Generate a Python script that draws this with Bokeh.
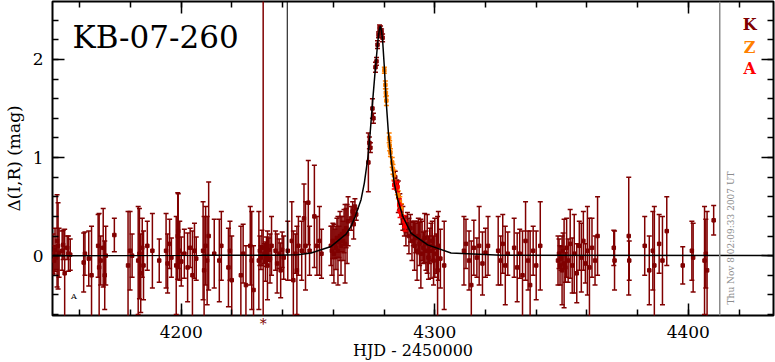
import numpy as np
from bokeh.plotting import figure
from bokeh.models import (Label, SingleIntervalTicker, LinearAxis, Range1d, Span,
                          CustomJSTickFormatter, FixedTicker)
from bokeh.embed import file_html
from bokeh.resources import INLINE

# ---------------- data ----------------
k_t = [4149.4, 4149.8, 4150.2, 4150.6, 4151.0, 4151.4, 4151.8,
       4153.0, 4153.4, 4154.0, 4155.0, 4155.5, 4156.2,
       4161.5, 4162.0, 4163.5, 4164.6,
       4167.2, 4167.6, 4168.2, 4169.2, 4169.8, 4170.2,
       4173.6,
       4179.0, 4179.8, 4180.6,
       4183.0, 4183.5, 4184.0, 4184.6, 4185.1,
       4186.6, 4188.6, 4191.3,
       4194.0, 4194.6, 4195.4, 4196.1,
       4198.0, 4198.6, 4198.8, 4199.4, 4200.0,
       4201.2, 4202.5, 4203.5, 4204.4, 4205.2, 4205.9,
       4208.6, 4209.0, 4209.6, 4210.2, 4210.8,
       4213.0, 4215.0, 4215.8, 4218.6, 4219.2, 4219.9,
       4223.5, 4224.4, 4225.5, 4227.2, 4227.8, 4228.5,
       4230.6, 4231.0, 4231.4, 4231.8, 4232.3, 4232.8, 4233.2, 4233.6, 4234.0, 4234.5, 4235.0, 4235.6,
       4237.2, 4237.8, 4238.6, 4239.2, 4239.8, 4240.4,
       4242.0, 4243.6, 4244.2, 4245.0, 4245.6, 4246.2,
       4247.5, 4248.4, 4249.0, 4250.1, 4250.6,
       4252.5, 4253.5, 4254.5, 4255.3,
       4259.0, 4259.4, 4259.8, 4260.2, 4260.6, 4261.0, 4261.4, 4261.8, 4262.2,
       4262.6, 4263.0, 4263.4, 4263.8, 4264.2, 4264.6, 4265.0, 4265.4, 4265.8,
       4267.0, 4267.6, 4268.0, 4268.5, 4269.0,
       4273.8, 4274.2, 4274.6, 4275.4, 4275.8,
       4276.6, 4277.0, 4277.4, 4277.8, 4278.2, 4278.6, 4279.0, 4279.4,
       4284.4, 4285.0, 4285.6, 4286.2, 4286.8, 4287.4, 4288.0, 4288.6, 4289.2, 4289.8, 4290.4,
       4291.0, 4291.5, 4292.0, 4292.5, 4293.0, 4293.5, 4294.0, 4294.5, 4295.0, 4295.5, 4296.0, 4296.5,
       4297.0, 4297.5, 4298.0, 4298.5, 4299.0, 4299.5, 4300.0, 4300.6, 4301.1, 4301.4, 4302.2, 4303.7,
       4311.5, 4312.3, 4313.5, 4314.4, 4315.4, 4316.6, 4317.5, 4318.8, 4320.0, 4321.0,
       4325.0, 4326.0, 4326.8, 4327.8, 4328.8,
       4331.3, 4332.5, 4333.5, 4334.6, 4335.8, 4336.8, 4337.6, 4338.8, 4340.0, 4341.6,
       4348.6, 4349.0, 4349.4, 4349.8, 4350.2, 4350.6, 4351.0, 4351.5, 4352.0, 4352.6, 4353.4, 4354.2,
       4355.0, 4356.0, 4357.0, 4357.8, 4358.6, 4359.4, 4360.2, 4361.0, 4362.0, 4363.2, 4364.2,
       4370.6, 4370.9, 4376.5, 4376.7, 4382.8, 4384.6, 4386.0, 4386.6, 4388.5, 4389.8, 4391.5,
       4397.8, 4401.4, 4401.9, 4406.4, 4406.9, 4407.4, 4410.0]
k_mag = [0.02, -0.05, 0.06, -0.02, 0.15, 0.10, 0.03,
         0.05, 0.11, -0.18, 0.08, 0.02, 0.01,
         -0.07, 0.02, -0.03, -0.20,
         0.10, -0.12, -0.05, 0.08, -0.20, 0.00,
         0.21,
         -0.10, 0.05, 0.00,
         -0.05, 0.02, -0.18, 0.08, -0.10,
         0.10, 0.05, -0.05,
         0.05, -0.08, 0.12, -0.02,
         -0.10, 0.20, 0.25, 0.05, -0.06,
         0.02, -0.12, 0.08, -0.20, 0.05, -0.03,
         0.05, -0.15, 0.10, -0.05, 0.20,
         0.02, -0.05, 0.10, -0.12, 0.05, -0.25,
         -0.20, 0.02, -0.30, 0.10, -0.05, -0.35,
         -0.05, 0.05, -0.02, 0.08, -0.90, 0.02, -0.06, 0.04, -0.10, 0.06, -0.03, 0.10,
         0.05, -0.08, 0.02, -0.15, 0.06, -0.02,
         0.05, 0.15, -0.25, 0.02, -0.15, 0.10,
         0.05, 0.38, 0.10, 0.54, 0.05,
         0.40, 0.10, 0.15, 0.02,
         0.10, 0.05, 0.15, 0.02, 0.12, 0.08, 0.18, 0.05, 0.14,
         0.20, 0.10, 0.22, 0.15, 0.25, 0.12, 0.28, 0.22, 0.35,
         0.38, 0.45, 0.32, 0.50, 0.42,
         0.95, 1.15, 1.10, 1.50, 1.40,
         1.92, 1.98, 2.15, 2.25, 2.32, 2.30, 2.28, 2.22,
         0.80, 0.72, 0.60, 0.55, 0.42, 0.38, 0.30, 0.25, 0.32, 0.20, 0.28,
         0.15, 0.22, 0.10, 0.18, 0.05, 0.20, 0.12, 0.02, 0.15, 0.08, 0.18, 0.05,
         0.12, -0.02, 0.10, 0.05, 0.15, -0.05, 0.08, 0.02, -0.15, 0.10, -0.03, -0.10,
         0.05, 0.12, -0.05, -0.30, 0.08, -0.02, 0.10, -0.08, 0.03, 0.10,
         0.05, -0.05, 0.12, -0.10, 0.02,
         0.08, -0.12, 0.02, -0.20, 0.15, -0.05, -0.30, 0.05, -0.10, 0.10,
         -0.05, 0.02, -0.10, -0.03, -0.15, 0.05, -0.08, -0.12, 0.08, -0.05, 0.12, -0.10,
         0.02, -0.18, 0.10, -0.02, 0.15, -0.08, 0.05, -0.12, 0.08, -0.05, 0.20,
         0.08, -0.05, 0.20, -0.05, 0.10, -0.15, 0.05, -0.10, 0.12, -0.05, 0.25,
         -0.10, 0.05, -0.02, -0.05, 0.02, -0.15, 0.36]
k_err = [0.20, 0.15, 0.22, 0.12, 0.47, 0.44, 0.25,
         0.20, 0.15, 0.45, 0.12, 0.18, 0.16,
         0.30, 0.22, 0.28, 0.50,
         0.32, 0.55, 0.25, 0.40, 0.35, 0.30,
         0.17,
         0.55, 0.40, 0.22,
         0.55, 0.46, 0.40, 0.30, 0.35,
         0.25, 0.38, 0.22,
         0.38, 0.30, 0.25, 0.20,
         0.50, 0.44, 0.38, 0.30, 0.25,
         0.25, 0.35, 0.20, 0.45, 0.28, 0.22,
         0.50, 0.55, 0.40, 0.45, 0.55,
         0.35, 0.42, 0.35, 0.40, 0.30, 0.45,
         0.50, 0.30, 0.40, 0.40, 0.50, 0.45,
         0.50, 0.15, 0.12, 0.18, 3.80, 0.10, 0.20, 0.15, 0.35, 0.12, 0.25, 0.30,
         0.20, 0.30, 0.15, 0.28, 0.18, 0.22,
         0.30, 0.40, 0.50, 0.20, 0.45, 0.30,
         0.30, 0.35, 0.45, 0.43, 0.25,
         0.52, 0.30, 0.35, 0.25,
         0.20, 0.25, 0.18, 0.30, 0.15, 0.22, 0.20, 0.35, 0.16,
         0.25, 0.30, 0.18, 0.20, 0.22, 0.40, 0.20, 0.30, 0.25,
         0.12, 0.10, 0.15, 0.08, 0.06,
         0.30, 0.06, 0.05, 0.10, 0.05,
         0.05, 0.04, 0.04, 0.03, 0.03, 0.04, 0.03, 0.04,
         0.06, 0.05, 0.16, 0.08, 0.10, 0.12, 0.10, 0.15, 0.12, 0.18, 0.14,
         0.20, 0.12, 0.25, 0.15, 0.30, 0.18, 0.22, 0.35, 0.20, 0.16, 0.25, 0.20,
         0.30, 0.22, 0.18, 0.28, 0.20, 0.25, 0.30, 0.20, 0.55, 0.35, 0.30, 0.45,
         0.35, 0.25, 0.30, 0.45, 0.28, 0.20, 0.40, 0.32, 0.25, 0.30,
         0.35, 0.25, 0.30, 0.40, 0.22,
         0.30, 0.35, 0.25, 0.45, 0.40, 0.30, 0.55, 0.25, 0.35, 0.45,
         0.25, 0.15, 0.20, 0.12, 0.35, 0.18, 0.45, 0.15, 0.30, 0.22, 0.35, 0.28,
         0.40, 0.30, 0.25, 0.35, 0.30, 0.20, 0.45, 0.50, 0.30, 0.25, 0.40,
         0.18, 0.30, 0.60, 0.20, 0.30, 0.35, 0.40, 0.60, 0.30, 0.45, 0.35,
         0.19, 0.30, 0.35, 0.55, 0.35, 0.60, 0.15]

z_t = [4280.1, 4280.5, 4280.7, 4280.9, 4282.0, 4282.2, 4282.5,
       4283.2, 4283.5, 4283.9, 4285.2, 4285.6, 4286.2, 4286.8]
z_mag = [1.89, 1.74, 1.66, 1.58, 1.20, 1.12, 1.05,
         0.95, 0.88, 0.82, 0.66, 0.62, 0.55, 0.48]
z_err = [0.03, 0.04, 0.04, 0.05, 0.05, 0.05, 0.04,
         0.05, 0.05, 0.05, 0.04, 0.04, 0.05, 0.05]

a_t = [4284.0, 4285.3, 4286.0, 4286.3, 4288.0, 4288.3]
a_mag = [0.72, 0.70, 0.52, 0.45, 0.35, 0.30]
a_err = [0.04, 0.05, 0.06, 0.06, 0.06, 0.05]

model_t = [4149.0, 4207.9, 4238.0, 4246.0, 4251.2, 4259.1, 4265.0, 4267.0, 4268.6,
           4270.9, 4272.2, 4273.6, 4274.5, 4275.5, 4276.6, 4277.6, 4278.1, 4278.5,
           4278.9, 4279.4, 4280.1, 4280.8, 4281.7, 4282.7, 4284.0, 4285.4, 4287.4,
           4290.6, 4297.2, 4306.4, 4326.1, 4434.0]
model_mag = [0.0, 0.003, 0.005, 0.01, 0.027, 0.094, 0.22, 0.30, 0.40,
             0.57, 0.74, 1.00, 1.25, 1.58, 1.92, 2.20, 2.30, 2.34,
             2.30, 2.20, 1.92, 1.58, 1.25, 1.00, 0.74, 0.57, 0.40,
             0.23, 0.11, 0.027, 0.005, 0.0]

event_name = "KB-07-260"
legend_names = ["K", "Z", "A"]
legend_colors = ["#800000", "#ff8000", "#ff0000"]
date_text = "Thu Nov 8 02:09:33 2007 UT"
x_title = "HJD - 2450000"
y_title = "Δ(I,R) (mag)"
now_t = 4412.4
black_line_t = 4241.8
offscale_t = [4232.3]

FONT = "DejaVu Serif"
X0, X1 = 4149.2, 4433.6
Y0, Y1 = -0.61, 2.59

p = figure(width=775, height=362, x_range=Range1d(X0, X1), y_range=Range1d(Y0, Y1),
           output_backend="svg", toolbar_location=None,
           min_border_left=51, min_border_right=2, min_border_top=1, min_border_bottom=46)
p.background_fill_color = "white"
p.border_fill_color = "white"
p.outline_line_color = "black"
p.outline_line_width = 2
p.xgrid.visible = False
p.ygrid.visible = False

blank = CustomJSTickFormatter(code="return '';")


def tick_style(ax):
    ax.axis_line_color = None
    ax.major_tick_in = 12
    ax.major_tick_out = 0
    ax.minor_tick_in = 6
    ax.minor_tick_out = 0
    ax.major_tick_line_width = 1.5
    ax.minor_tick_line_width = 1.5
    ax.major_tick_line_color = "black"
    ax.minor_tick_line_color = "black"
    ax.major_label_text_font = FONT
    ax.major_label_text_font_size = "17px"
    ax.major_label_text_color = "black"


def no_ticks(ax):
    ax.axis_line_color = None
    ax.major_tick_line_color = None
    ax.minor_tick_line_color = None
    ax.major_tick_in = 0
    ax.major_tick_out = 0
    ax.minor_tick_in = 0
    ax.minor_tick_out = 0


# mirrored tick-only axes
top_x = LinearAxis(formatter=blank, ticker=SingleIntervalTicker(interval=100, num_minor_ticks=5))
right_y = LinearAxis(formatter=blank, ticker=SingleIntervalTicker(interval=1, num_minor_ticks=5))
bottom_ticks = LinearAxis(formatter=blank, ticker=SingleIntervalTicker(interval=100, num_minor_ticks=5))
for ax in (top_x, right_y, bottom_ticks):
    tick_style(ax)
    ax.major_label_standoff = 0
p.add_layout(top_x, "above")
p.add_layout(right_y, "right")

# left axis with labels
ly = p.left[0]
ly.ticker = SingleIntervalTicker(interval=1, num_minor_ticks=5)
tick_style(ly)
ly.major_label_standoff = 9
ly.axis_label = y_title
ly.axis_label_text_font = FONT
ly.axis_label_text_font_size = "17px"
ly.axis_label_text_font_style = "normal"
ly.axis_label_text_color = "black"
ly.axis_label_standoff = 6

# off-scale point marker, a label row right under the frame
star_x = LinearAxis(ticker=FixedTicker(ticks=offscale_t, minor_ticks=[]),
                    formatter=CustomJSTickFormatter(code="return '*';"))
no_ticks(star_x)
star_x.major_label_standoff = 0
star_x.major_label_text_font = FONT
star_x.major_label_text_font_size = "14px"
star_x.major_label_text_color = legend_colors[0]

# bottom axis carrying the tick labels and the axis title
main_x = p.below[0]
main_x.ticker = SingleIntervalTicker(interval=100, num_minor_ticks=5)
no_ticks(main_x)
main_x.major_label_text_font = FONT
main_x.major_label_text_font_size = "17px"
main_x.major_label_text_color = "black"
main_x.major_label_standoff = -9
main_x.axis_label = x_title
main_x.axis_label_text_font = FONT
main_x.axis_label_text_font_size = "16px"
main_x.axis_label_text_font_style = "normal"
main_x.axis_label_text_color = "black"
main_x.axis_label_standoff = 0

p.below = [bottom_ticks, star_x, main_x]


def draw(t, m, e, color):
    t = np.asarray(t, dtype=float)
    m = np.asarray(m, dtype=float)
    e = np.asarray(e, dtype=float)
    p.segment(x0=t, y0=m - e, x1=t, y1=m + e, line_color=color, line_width=1.5)
    p.scatter(np.concatenate([t, t]), np.concatenate([m - e, m + e]), marker="dash",
              size=5, line_color=color, line_width=1.5)
    p.scatter(t, m, marker="square", size=3.5, fill_color=color, line_color=color)


draw(k_t, k_mag, k_err, legend_colors[0])
draw(z_t, z_mag, z_err, legend_colors[1])
draw(a_t, a_mag, a_err, legend_colors[2])

p.segment(x0=[black_line_t], y0=[0.0], x1=[black_line_t], y1=[3.0], line_color="black", line_width=1)
p.line(model_t, model_mag, line_color="black", line_width=1.5)
p.add_layout(Span(location=now_t, dimension="height", line_color="#8c8c8c", line_width=1.5))

# texts
p.add_layout(Label(x=4157.1, y=2.224, text=event_name, text_font=FONT, text_font_size="31px",
                   text_align="left", text_baseline="alphabetic", text_color="black"))
for name, col, yy in zip(legend_names, legend_colors, [2.355, 2.122, 1.909]):
    p.add_layout(Label(x=4424.2, y=yy, text=name, text_font=FONT, text_font_size="16px",
                       text_font_style="bold", text_align="center", text_baseline="alphabetic",
                       text_color=col))
p.add_layout(Label(x=4416.7, y=-0.497, text=date_text, text_font=FONT, text_font_size="9px",
                   angle=np.pi / 2, text_align="left", text_baseline="alphabetic",
                   text_color="#8c8c8c"))
p.add_layout(Label(x=4157.6, y=-0.42, text="A", text_font=FONT, text_font_size="8px",
                   text_align="center", text_baseline="middle", text_color="black"))

open("out.html", "w").write(file_html(p, INLINE))
